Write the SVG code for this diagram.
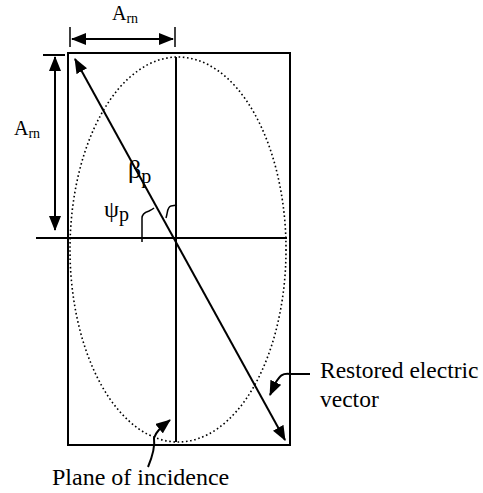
<svg xmlns="http://www.w3.org/2000/svg" width="483" height="493" viewBox="0 0 483 493">
<defs>
<style>
.ln{stroke:#000;stroke-width:2;fill:none}
.th{stroke:#000;stroke-width:1.5;fill:none}
.dot{stroke:#000;stroke-width:1.6;fill:none;stroke-dasharray:1.6 2.6}
.t{font-family:"Liberation Serif","Times New Roman",serif;fill:#000}
</style>
<marker id="ah" viewBox="0 0 15 12" refX="14" refY="6" markerWidth="15" markerHeight="12" markerUnits="userSpaceOnUse" orient="auto-start-reverse">
<path d="M0,0 L15,6 L0,12 z" fill="#000"/>
</marker>
</defs>
<g id="frame">
<rect x="68" y="53" width="222" height="392" class="ln"/>
</g>
<g id="ellipse">
<ellipse cx="178" cy="249.5" rx="108" ry="192.5" class="dot"/>
</g>
<g id="axes">
<line x1="176" y1="57" x2="176" y2="442" class="ln"/>
<line x1="36" y1="238" x2="287" y2="238" class="ln"/>
</g>
<g id="connectors">
<line x1="75" y1="59" x2="285" y2="440" class="ln" marker-start="url(#ah)" marker-end="url(#ah)"/>
<line x1="70" y1="27" x2="70" y2="47" class="th"/>
<line x1="175" y1="27" x2="175" y2="47" class="th"/>
<line x1="72" y1="39" x2="173" y2="39" class="ln" marker-start="url(#ah)" marker-end="url(#ah)"/>
<line x1="43" y1="55" x2="65" y2="55" class="ln"/>
<line x1="55" y1="57" x2="55" y2="230" class="ln" marker-start="url(#ah)" marker-end="url(#ah)"/>
<path d="M142,242 L142,218 C142,213 146,212 149,211 C151,210 153,209 154,208" class="th"/>
<path d="M166,218 C168,212 167,207 171,206 L177,205" class="th"/>
<path d="M310,374 L290,374 C282,373 280,376 276,382 L270,395" class="ln" marker-end="url(#ah)"/>
<path d="M148,467 C153,455 155,445 154,438 C156,432 160,428 170,420" class="ln" marker-end="url(#ah)"/>
</g>
<g id="labels">
<text x="112" y="20" class="t" font-size="20">A<tspan font-size="14" dy="3">rn</tspan></text>
<text x="14" y="135" class="t" font-size="20">A<tspan font-size="14" dy="3">rn</tspan></text>
<text x="128" y="178" class="t" font-size="26">β<tspan font-size="20" dy="5">p</tspan></text>
<text x="104" y="217" class="t" font-size="24">ψ<tspan font-size="20" dy="4">p</tspan></text>
<text x="320" y="378" class="t" font-size="23.5">Restored electric</text>
<text x="320" y="407" class="t" font-size="23.5">vector</text>
<text x="52" y="485" class="t" font-size="24">Plane of incidence</text>
</g>
</svg>
